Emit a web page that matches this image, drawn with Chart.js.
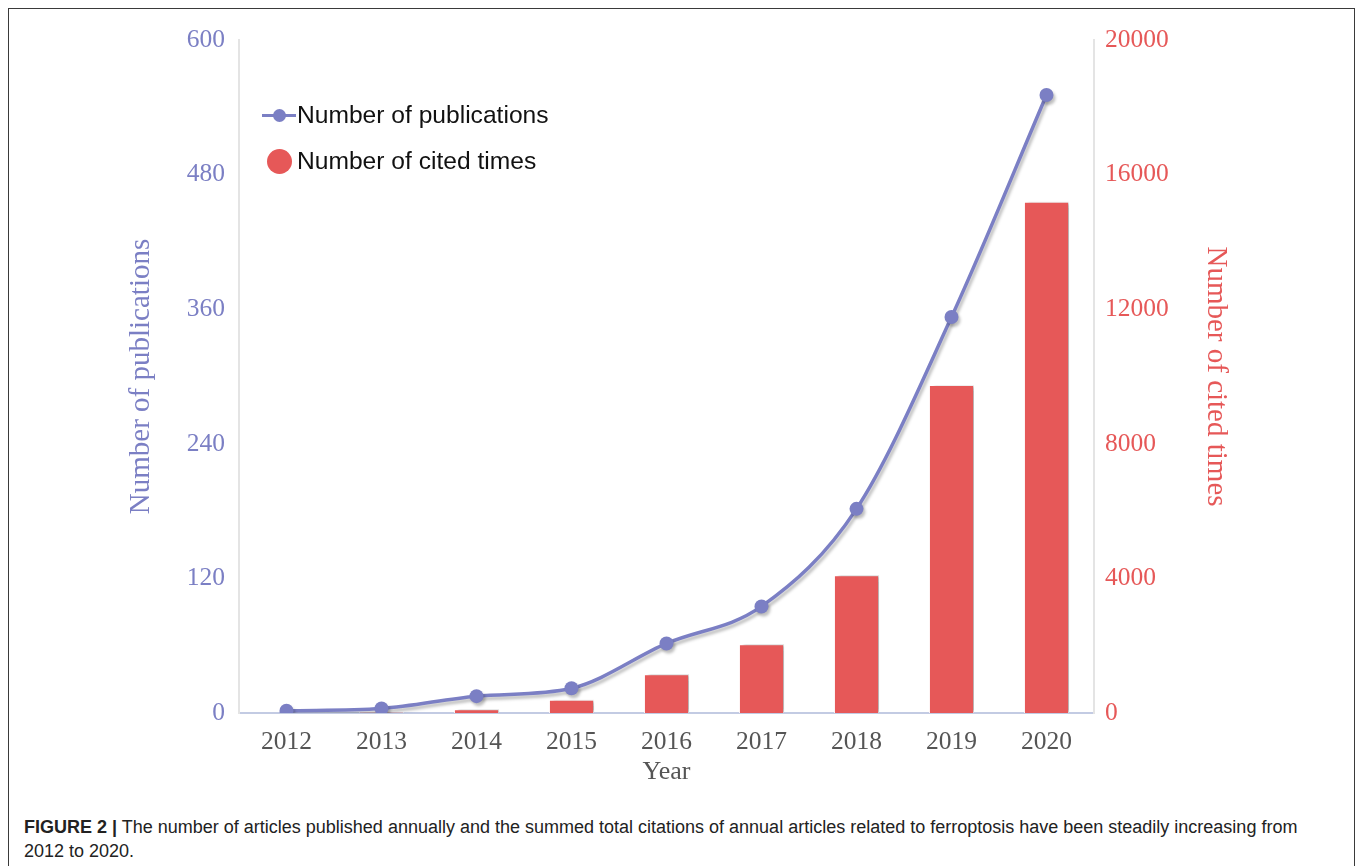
<!DOCTYPE html>
<html>
<head>
<meta charset="utf-8">
<script src="https://cdn.jsdelivr.net/npm/chart.js@4"></script>
<style>
  html, body { margin: 0; padding: 0; background: #fff; width: 1358px; height: 866px; overflow: hidden; }
  #frame { position: absolute; left: 8px; top: 8px; width: 1347px; height: 900px; border: 1.5px solid #3a3a3a; box-sizing: border-box; }
  #wrap { position: absolute; left: 0; top: 0; width: 1358px; height: 800px; }
  #legend { position: absolute; left: 262px; top: 98px; font-family: "Liberation Sans", Arial, sans-serif; font-size: 24.6px; color: #111; }
  .lg { position: relative; height: 46px; line-height: 34px; padding-left: 35px; white-space: nowrap; }
  .lg .sym-line { position: absolute; left: 0; top: 16px; width: 34px; height: 3px; background: #7b7fc4; }
  .lg .sym-dot { position: absolute; left: 11px; top: 11px; width: 13px; height: 13px; border-radius: 50%; background: #7b7fc4; }
  .lg .sym-big { position: absolute; left: 5px; top: 5px; width: 25px; height: 25px; border-radius: 50%; background: #e65858; }
  #caption { position: absolute; left: 24px; top: 815px; width: 1300px; font-family: "Liberation Sans Narrow", "Liberation Sans", Arial, sans-serif; font-size: 18px; line-height: 24px; color: #222; }
  #caption b { font-weight: bold; }
</style>
</head>
<body>
<div id="frame"></div>
<div id="wrap"><canvas id="c"></canvas></div>
<div id="legend">
  <div class="lg"><span class="sym-line"></span><span class="sym-dot"></span>Number of publications</div>
  <div class="lg"><span class="sym-big"></span>Number of cited times</div>
</div>
<div id="caption"><b>FIGURE 2 |</b> The number of articles published annually and the summed total citations of annual articles related to ferroptosis have been steadily increasing from 2012 to 2020.</div>
<script>
const years = ['2012', '2013', '2014', '2015', '2016', '2017', '2018', '2019', '2020'];
const publications = [2, 4, 15, 22, 62, 95, 182, 353, 551];
const citedTimes = [0, 20, 110, 395, 1150, 2040, 4090, 9750, 15190];
const leftTicks = [0, 120, 240, 360, 480, 600];
const rightTicks = [0, 4000, 8000, 12000, 16000, 20000];

const purple = '#7b7fc4';
const red = '#e65858';
const serif = '"Liberation Serif", "Times New Roman", serif';

const shadowPlugin = {
  id: 'shadow',
  beforeDatasetDraw(chart, args) {
    const ctx = chart.ctx;
    ctx.save();
    if (args.index === 1) {
      ctx.shadowColor = 'rgba(0,0,0,0.28)';
      ctx.shadowOffsetX = 4;
      ctx.shadowOffsetY = 0;
      ctx.shadowBlur = 3;
    } else {
      ctx.shadowColor = 'rgba(0,0,0,0.25)';
      ctx.shadowOffsetX = 2;
      ctx.shadowOffsetY = 3;
      ctx.shadowBlur = 3;
    }
  },
  afterDatasetDraw(chart) { chart.ctx.restore(); }
};

new Chart(document.getElementById('c'), {
  type: 'bar',
  data: {
    labels: years,
    datasets: [
      {
        type: 'line',
        label: 'Number of publications',
        data: publications,
        yAxisID: 'y',
        borderColor: purple,
        backgroundColor: purple,
        borderWidth: 3.5,
        pointRadius: 7,
        pointBackgroundColor: purple,
        pointBorderWidth: 0,
        tension: 0.4,
        cubicInterpolationMode: 'monotone',
        order: 0
      },
      {
        type: 'bar',
        label: 'Number of cited times',
        data: citedTimes,
        yAxisID: 'y1',
        backgroundColor: red,
        borderColor: '#ffffff',
        borderWidth: 1,
        barPercentage: 0.5,
        categoryPercentage: 0.95,
        order: 1
      }
    ]
  },
  options: {
    responsive: true,
    maintainAspectRatio: false,
    animation: false,
    devicePixelRatio: 1,
    layout: { padding: { left: 120, right: 119, top: 40, bottom: 10 } },
    plugins: { legend: { display: false }, tooltip: { enabled: false } },
    scales: {
      x: {
        grid: { display: false, drawTicks: false },
        border: { display: true, color: '#c3cbe3', width: 2 },
        ticks: { color: '#555', font: { family: serif, size: 25.5 }, padding: 14 },
        title: { display: true, text: 'Year', color: '#555', font: { family: serif, size: 26 }, padding: { top: 0, bottom: 2 } },
        afterFit(s) { s.height = 77; }
      },
      y: {
        position: 'left',
        min: 0, max: 600,
        afterBuildTicks(s) { s.ticks = leftTicks.map(v => ({ value: v })); },
        grid: { display: false, drawTicks: false },
        border: { display: true, color: '#e4e4e4', width: 2 },
        ticks: { color: purple, font: { family: serif, size: 25.5 }, padding: 14, callback: v => String(v) },
        title: { display: true, text: 'Number of publications', color: purple, font: { family: serif, size: 29 }, padding: { top: 4, bottom: 0 } },
        afterFit(s) { s.width = 119; }
      },
      y1: {
        position: 'right',
        min: 0, max: 20000,
        afterBuildTicks(s) { s.ticks = rightTicks.map(v => ({ value: v })); },
        grid: { display: false, drawTicks: false },
        border: { display: true, color: '#e4e4e4', width: 2 },
        ticks: { color: red, font: { family: serif, size: 25.5 }, padding: 11, callback: v => String(v) },
        title: { display: true, text: 'Number of cited times', color: red, font: { family: serif, size: 29 }, padding: { top: 6, bottom: 0 } },
        afterFit(s) { s.width = 145; }
      }
    }
  },
  plugins: [shadowPlugin]
});
</script>
</body>
</html>
